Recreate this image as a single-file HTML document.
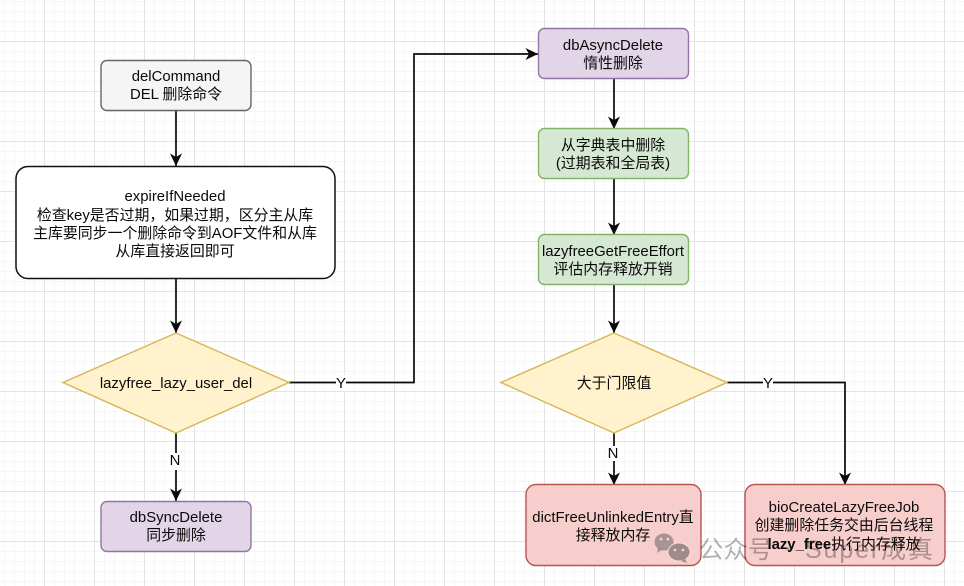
<!DOCTYPE html>
<html><head><meta charset="utf-8"><style>
html,body{margin:0;padding:0;background:#fff}
svg{display:block}
text{font-family:"Liberation Sans","Noto Sans CJK SC",sans-serif;font-size:14.9px;fill:#0a0a0a;text-anchor:middle}
</style></head><body>
<svg width="964" height="586" viewBox="0 0 964 586" xmlns="http://www.w3.org/2000/svg">
<defs>
<pattern id="g" x="4" y="1" width="10" height="10" patternUnits="userSpaceOnUse"><path d="M0.5 0V10M0 0.5H10" stroke="#f6f6f6" stroke-width="1" fill="none"/></pattern>
<pattern id="G" x="44" y="41" width="50" height="50" patternUnits="userSpaceOnUse"><path d="M0.5 0V50M0 0.5H50" stroke="#e4e4e4" stroke-width="1" fill="none"/></pattern>
<marker id="a" markerUnits="userSpaceOnUse" markerWidth="14" markerHeight="14" refX="13" refY="7" orient="auto"><path d="M0.5 1 L13 7 L0.5 13 L4 7Z" fill="#0a0a0a"/></marker>
</defs>
<rect width="964" height="586" fill="#fff"/>
<rect width="964" height="586" fill="url(#g)"/>
<rect width="964" height="586" fill="url(#G)"/>

<g fill="none" stroke="#0a0a0a" stroke-width="1.7">
<path d="M176 110V166" marker-end="url(#a)"/>
<path d="M176 279V333" marker-end="url(#a)"/>
<path d="M176 433V501" marker-end="url(#a)"/>
<path d="M289 382.5H414V54H538" marker-end="url(#a)"/>
<path d="M614 79V129" marker-end="url(#a)"/>
<path d="M614 179V235" marker-end="url(#a)"/>
<path d="M614 285V333" marker-end="url(#a)"/>
<path d="M614 433V485" marker-end="url(#a)"/>
<path d="M727 382.5H845V485" marker-end="url(#a)"/>
</g>

<rect x="101" y="60.5" width="150" height="50" rx="6" fill="#f5f5f5" stroke="#666" stroke-width="1.4"/>
<rect x="16" y="166.5" width="319" height="112" rx="12" fill="#fff" stroke="#111" stroke-width="1.5"/>
<path d="M176 333L289 382.5L176 433L63 382.5Z" fill="#fff2cc" stroke="#d6b656" stroke-width="1.4"/>
<rect x="101" y="501.5" width="150" height="50" rx="6" fill="#e1d5e7" stroke="#9673a6" stroke-width="1.4"/>
<rect x="538.5" y="28.5" width="150" height="50" rx="6" fill="#e1d5e7" stroke="#9673a6" stroke-width="1.4"/>
<rect x="538.5" y="128.5" width="150" height="50" rx="6" fill="#d5e8d4" stroke="#82b366" stroke-width="1.4"/>
<rect x="538.5" y="234.5" width="150" height="50" rx="6" fill="#d5e8d4" stroke="#82b366" stroke-width="1.4"/>
<path d="M614 333L727 382.5L614 433L501 382.5Z" fill="#fff2cc" stroke="#d6b656" stroke-width="1.4"/>
<rect x="526" y="484.5" width="175" height="81" rx="10" fill="#f8cecc" stroke="#b85450" stroke-width="1.4"/>
<rect x="745" y="484.5" width="200" height="81" rx="10" fill="#f8cecc" stroke="#b85450" stroke-width="1.4"/>

<rect x="336" y="375" width="10" height="16" fill="#fff"/>
<rect x="169" y="453" width="12" height="17" fill="#fff"/>
<rect x="607" y="446" width="12" height="15" fill="#fff"/>
<rect x="763" y="375" width="10" height="16" fill="#fff"/>

<text x="176" y="81">delCommand</text>
<text x="176" y="99">DEL 删除命令</text>
<text x="175" y="201">expireIfNeeded</text>
<text x="175" y="220">检查key是否过期，如果过期，区分主从库</text>
<text x="175" y="238">主库要同步一个删除命令到AOF文件和从库</text>
<text x="175" y="256">从库直接返回即可</text>
<text x="176" y="388">lazyfree_lazy_user_del</text>
<text x="176" y="522">dbSyncDelete</text>
<text x="176" y="540">同步删除</text>
<text x="613" y="50">dbAsyncDelete</text>
<text x="613" y="68">惰性删除</text>
<text x="613" y="150">从字典表中删除</text>
<text x="613" y="168">(过期表和全局表)</text>
<text x="613" y="256">lazyfreeGetFreeEffort</text>
<text x="613" y="274">评估内存释放开销</text>
<text x="614" y="388">大于门限值</text>
<text x="613" y="522">dictFreeUnlinkedEntry直</text>
<text x="613" y="540">接释放内存</text>
<text x="844" y="512">bioCreateLazyFreeJob</text>
<text x="844" y="530">创建删除任务交由后台线程</text>
<text x="844" y="549"><tspan font-weight="bold">lazy_free</tspan>执行内存释放</text>
<text x="341" y="388">Y</text>
<text x="175" y="465">N</text>
<text x="613" y="458">N</text>
<text x="768" y="388">Y</text>

<g>
<ellipse cx="664" cy="542" rx="9.5" ry="8.5" fill="#9a8a8a" fill-opacity=".85"/>
<path d="M658 547l-1 6 6-4z" fill="#9a8a8a" fill-opacity=".85"/>
<ellipse cx="679" cy="552" rx="11" ry="9" fill="#a08a8a" stroke="#f3dede" stroke-width="1"/>
<path d="M685 559l2 4-6-2z" fill="#a08a8a"/>
<circle cx="661" cy="539" r="1.3" fill="#f3dede"/><circle cx="668" cy="539" r="1.3" fill="#f3dede"/>
<circle cx="675" cy="550" r="1.3" fill="#f3dede"/><circle cx="683" cy="550" r="1.3" fill="#f3dede"/>
</g>
<text x="699" y="558" style="text-anchor:start;font-size:24.5px;fill:#000;fill-opacity:.3">公众号</text>
<circle cx="788" cy="549" r="1.6" fill="#000" fill-opacity=".3"/>
<text x="805" y="558" textLength="128" lengthAdjust="spacing" style="text-anchor:start;font-size:25px;fill:#000;fill-opacity:.3">Super成真</text>
</svg>
</body></html>
